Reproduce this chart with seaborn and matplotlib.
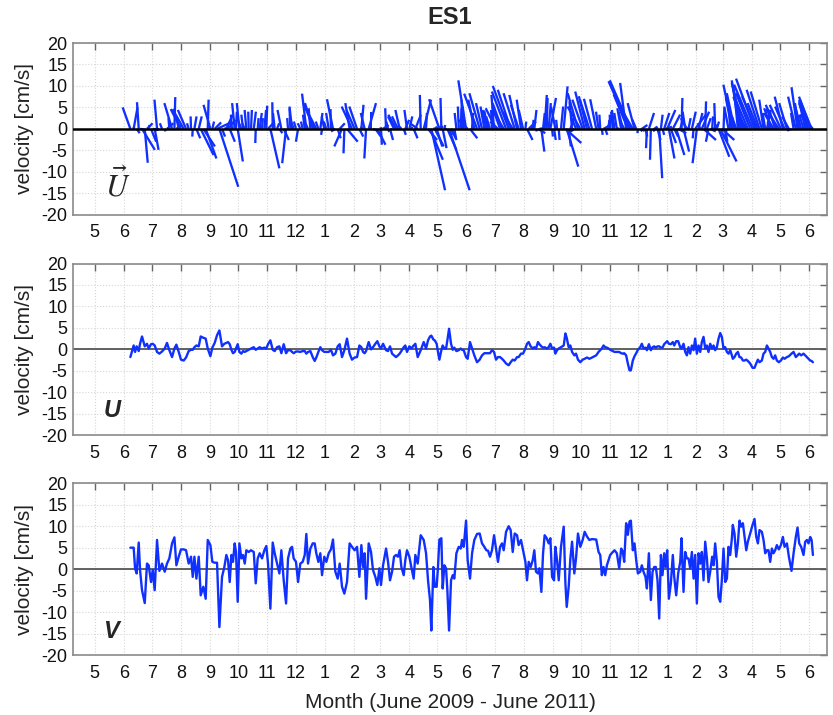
import numpy as np
import pandas as pd
import matplotlib
matplotlib.use("Agg")
import matplotlib.pyplot as plt
import seaborn as sns

# days since 2009-06-01
day = [
    7.1, 10.6, 12.1, 13.8, 16.0, 17.4, 19.5, 22.4, 24.8, 26.6, 29.1, 30.9, 33.0, 35.5, 38.0, 40.8, 43.7, 46.1,
    48.6, 51.5, 54.0, 56.1, 58.6, 61.0, 63.9, 66.4, 69.2, 71.7, 73.5, 75.3, 77.4, 79.9, 82.0, 84.8, 87.3, 89.5,
    92.3, 94.4, 96.9, 99.4, 101.9, 104.7, 107.2, 109.3, 111.1, 112.9, 114.7, 116.4, 118.2, 119.6, 121.4, 123.2,
    125.3, 127.1, 128.9, 130.6, 133.1, 135.6, 138.5, 140.6, 142.7, 144.8, 147.3, 149.8, 151.9, 153.7, 156.2,
    158.7, 160.8, 163.3, 165.8, 167.9, 170.4, 172.9, 175.0, 177.5, 179.3, 181.0, 183.5, 185.7, 188.1, 190.6,
    192.8, 194.5, 196.3, 198.8, 201.3, 203.4, 205.1, 207.3, 209.4, 211.2, 213.6, 215.8, 218.3, 220.7, 222.9,
    225.4, 227.9, 230.0, 232.5, 235.0, 237.8, 240.6, 243.1, 245.9,
    248.5, 251.0, 253.1, 254.9, 256.6, 258.1, 260.9, 263.4, 265.5, 268.0, 270.1, 272.3, 274.0, 276.2, 279.4,
    281.5, 283.6, 285.8, 287.9, 290.0, 292.1, 293.9, 295.7, 298.2, 299.9, 301.7, 304.2, 306.3, 308.8, 310.6,
    313.1, 316.3, 319.5, 322.0, 324.1, 326.2, 327.6, 329.8, 331.2, 333.3, 334.7, 336.2, 338.3, 339.7, 341.5,
    343.3, 344.7, 346.5, 348.6, 350.4, 352.1, 354.3, 356.8, 358.9, 360.3, 362.1, 364.6, 366.3, 368.8, 371.0,
    373.4, 376.3, 379.1, 381.6, 384.1, 386.2, 388.0, 390.1, 392.2, 394.4, 396.5, 398.6, 400.8, 402.9, 404.7,
    407.2, 410.0, 412.1, 414.3, 416.4, 418.9, 420.6, 423.1, 425.3, 427.8, 429.5, 431.3, 433.4, 435.6, 437.3,
    439.1, 441.2, 442.7, 444.8, 446.6, 448.3, 450.5, 452.6, 454.4, 456.2, 458.3, 459.7, 461.5, 463.3, 465.7,
    468.6, 470.4, 471.8, 473.9, 475.7, 477.5, 479.9, 481.7, 483.8, 486.3, 488.8, 490.9, 493.4, 495.9, 498.8,
    503.2, 505.7, 507.5, 509.2, 511.0, 512.8, 514.6, 516.3, 518.1, 520.9, 522.7, 525.2, 527.7, 529.8, 531.6,
    533.0, 535.1, 536.9, 538.7, 540.1, 542.2, 544.0, 545.8, 547.6, 550.1, 551.8, 553.6, 555.7, 557.2, 559.3,
    561.4, 563.2, 565.0, 566.7, 568.5, 570.3, 572.1, 573.8, 575.6, 577.0, 578.8, 580.6, 582.7, 584.8, 586.3,
    588.4, 590.5, 592.7, 594.1, 596.2, 598.0, 599.8, 601.5, 603.3, 605.1, 606.9, 608.6, 610.4, 612.2, 614.0,
    615.7, 617.5, 619.3, 621.1, 622.8, 624.6, 626.7, 628.2, 629.9, 631.7, 633.5, 635.3, 637.0, 638.8, 640.6,
    642.4, 644.1, 645.9, 647.7, 648.7, 650.5, 652.3, 654.1, 655.8, 657.6, 659.4, 661.2, 663.0, 664.7, 667.2,
    669.7, 671.8, 673.6, 675.4, 677.1, 679.6, 681.4, 683.2, 685.0, 686.7, 688.5, 690.3, 692.1, 693.8, 695.6,
    697.7, 699.9, 702.0, 703.8, 706.3, 708.4, 711.2, 713.4, 715.8, 717.6, 719.4, 721.5, 724.0, 725.8, 727.6,
    729.3, 731.1, 732.6, 734.0,
]

# east component U [cm/s]
u_vel = [
    -1.8, 0.9, -0.6, 0.7, -0.4, 1.3, 3.0, 0.7, 1.3, 0.2, 1.2, 1.3, 0.9, -0.6, -1.0, -0.5, 0.2, 1.5, -0.2, -1.8,
    0.2, 1.1, -0.6, -2.4, -2.6, -1.9, -0.4, -0.1, -0.1, 0.5, 0.9, 0.7, 3.0, 2.7, 2.5, 0.2, -1.6, 0.4, 1.5, 3.3,
    4.4, 0.7, 1.3, 1.5, 1.7, 1.2, -0.1, -0.9, -0.6, 0.2, 1.2, -0.6, -1.0, -0.4, -0.6, -0.4, -0.1, 0.2, 0.5, -0.1,
    0.2, 0.5, 0.2, 0.4, 0.2, 1.2, 2.1, -0.1, -0.4, 0.5, 0.7, -0.9, 1.2, -0.9, -0.2, -0.2, -0.6, -0.9, -0.5, -0.5,
    -0.6, -0.4, -0.4, -1.0, -0.6, -0.4, -1.8, -2.7, -1.9, -0.6, 0.5, -0.2, -0.6, -0.6, -0.6, -0.1, -1.4, -1.0,
    0.7, 1.2, -1.8, -0.2, 2.5, -1.0, -2.4, -1.9,
    -1.8, 0.9, 0.5, -0.6, -0.9, -0.4, 1.7, 0.0, 0.5, 1.3, 1.9, 0.7, 0.2, 1.3, -0.2, -0.4, 0.7, -1.0, -1.4, -1.8,
    -1.4, -1.0, -0.4, 0.5, 0.9, -0.6, 0.7, 0.2, 0.9, 1.3, -1.8, -0.2, 1.7, 0.2, 2.1, 3.0, 3.2, 2.3, 2.1, 1.3,
    -0.6, -2.4, -0.2, 0.9, 0.2, 0.2, 2.1, 4.8, 1.3, -0.1, 0.4, -0.4, -0.2, 0.2, -0.1, -0.2, -1.8, -2.2, 1.7, 0.2,
    -1.4, -3.0, -2.4, -1.4, -0.9, -0.9, -0.9, -0.9, -0.2, -0.6, -2.4, -1.8, -1.8, -2.2, -2.6, -3.3, -3.7, -3.0,
    -2.4, -2.6, -1.8, -1.8, -1.0, -1.0, 0.2, 1.3, 1.7, 0.7, 0.2, 0.5, 0.2, 1.7, 1.2, 0.7, 0.4, 0.5, 0.2, 0.5,
    1.3, 0.2, 0.4, -1.0, -0.2, 0.2, 0.5, 0.9, 3.7, 2.7, 0.5, 0.9, -0.6, -1.4, -1.0, -2.4, -3.0, -2.4, -2.2,
    -1.9, -2.2, -1.9,
    -1.4, -0.6, -0.2, 0.2, 0.9, 0.5, 0.4, 0.2, -0.1, -0.4, -0.6, -0.6, -0.6, -0.9, -1.0, -0.9, -1.4, -3.3, -4.9,
    -4.9, -2.6, -1.6, -0.9, -0.1, 0.5, 1.3, 0.2, 0.4, -0.2, 1.2, -0.2, 0.5, 0.7, 0.4, 0.7, 0.7, 0.4, 0.4, 1.2,
    1.5, 1.9, 1.3, 1.2, 1.7, 0.9, 1.9, 1.9, 0.5, 0.2, 1.3, -0.6, -1.4, 0.5, -1.0, 0.9, -0.2, 2.5, -1.0, 0.9,
    -0.6, 1.7, 2.9, 0.2, 0.9, -0.6, 1.3, 0.2, 0.9, -0.2, 0.5, 2.5, 3.8, 2.9, 0.2, 0.5, -0.6, -1.0, -0.2, -1.4,
    -2.2, -1.8, -1.0, -0.6, -1.8, -1.9, -2.6, -2.6, -2.4, -2.7, -3.3, -4.3, -4.3, -3.3, -2.4, -3.0, -2.6, -1.0,
    -0.6, 0.9, 0.2, -0.6, -1.8, -2.2, -1.4, -2.6, -3.0, -2.6, -1.9, -2.2, -1.8, -1.6, -1.0, -0.6, -1.8, -1.4,
    -1.0, -1.4, -1.0, -1.4, -1.8, -2.2, -2.6, -2.7, -3.0,
]

# north component V [cm/s]
v_vel = [
    5.0, 5.0, 0.2, -1.0, 6.2, -0.2, -4.9, -7.9, 1.3, 0.9, -3.0, -0.2, -4.9, 6.8, -0.4, 1.3, -0.6, 1.3, 2.5, 6.0,
    7.4, 0.9, 2.9, 4.6, 4.6, 4.4, 1.3, 2.9, -1.8, 2.9, -2.2, 2.9, -6.1, -4.1, -6.9, 6.8, 5.6, 1.7, 1.5, 1.5,
    -13.5, -1.8, 0.5, 3.3, 2.1, -3.0, 3.3, 1.7, 6.0, 4.0, -7.6, 6.0, 2.5, 3.3, 1.3, 4.4, 4.0, 4.4, 4.0, -3.3,
    2.5, 3.7, 2.5, 4.4, 5.4, 1.3, -9.2, 6.2, 3.7, 1.3, -1.0, 4.4, -2.6, -8.0, 2.5, 4.8, 5.2, 2.5, 1.7, -3.0,
    1.3, 1.7, 3.3, 8.2, 1.3, 4.8, 6.0, 6.0, 3.7, 1.7, 3.7, -1.4, 2.9, 1.7, 3.7, 4.6, 6.9, -0.6, -2.2, 1.3,
    -4.1, -5.7, -3.0, 6.0, 5.2, 4.4,
    5.2, -1.8, 5.6, 0.5, 3.7, -6.9, 6.0, 4.0, -0.2, -1.8, -3.7, 0.2, -3.7, 0.9, 4.8, 1.7, -2.6, -0.6, 2.9, 3.3,
    2.9, 4.4, 0.5, -1.4, 2.1, 4.4, 2.9, 0.5, -2.2, 3.3, 1.3, 7.9, 6.8, 3.7, -2.6, -7.2, -14.3, 0.5, -4.1, -4.1,
    0.5, 6.9, 7.2, -4.5, 0.9, 0.2, -4.9, -14.3, -2.6, -1.4, -2.2, 3.7, 5.2, 4.8, 6.8, 5.2, 11.3, 2.1, -2.2, 3.7,
    6.8, 8.2, 8.3, 6.0, 5.2, 4.4, 4.3, 2.9, 4.4, 7.9, 4.8, 1.7, 5.2, 6.0, 4.4, 8.7, 10.0, 9.1, 4.0, 8.3,
    7.9, 5.6, 6.8, 4.4, 1.7, -2.6, 1.7, 0.5, 2.1, 4.4, -0.6, -1.0, 0.2, -5.3, 3.7, 7.9, 7.2, 6.0, 7.2, -1.8,
    -2.6, 5.2, 2.1, -2.6, 5.2, 9.9, -3.3, -8.8, -4.1, 2.5, 6.4, -1.0, 2.5, 8.3, 5.2, 6.8, 8.7, 7.6, 6.8, 7.0,
    6.9, 4.0, 3.3, -1.4, 0.5, -1.4, 0.9, 2.1, 3.3, 4.0, 4.4, 3.7, 0.2, 4.8, 4.0, 1.7, 10.7, 8.0, 11.1, 11.3,
    4.4, 6.0, 2.1, -1.0, -0.6, 0.9, -0.6, -1.8, -4.5, 3.7, -7.2, -0.6, 0.5, 0.5, -2.6, -11.5, 3.3, -1.4, 3.7, 0.5,
    4.4, -6.9, -3.3, 3.3, -1.8, -6.1, -1.0, 1.7, 7.2, -5.3, 4.0, 2.5, 2.5, 0.2, 4.0, -2.2, 3.3, -8.0, 3.7, 1.3,
    4.0, -2.6, 6.4, 2.5, -3.0, -0.6, 2.9, 0.9, 6.0, 1.7, -6.5, -7.6, -2.6, 4.8, -3.0, -2.2, 5.2, 3.3, 7.2, 10.3,
    8.3, 2.9, 6.0, 11.3, 9.9, 10.7, 7.5, 4.4, 6.4, 8.3, 10.3, 11.7, 7.6, 6.0, 9.1, 8.7, 6.8, 3.7, 4.4, 4.4,
    1.7, 4.8, 3.7, 4.4, 5.6, 4.6, 5.6, 7.5, 5.2, 6.0, 2.9, -0.4, 3.7, 7.5, 9.7, 6.0, 5.2, 3.3, 6.4, 6.8,
    6.0, 7.5, 6.8, 3.3,
]

month_starts = pd.date_range("2009-05-01", "2011-06-01", freq="MS")
base_date = pd.Timestamp("2009-06-01")
tick_days = [(m - base_date).days for m in month_starts]
tick_labels = [str(m.month) for m in month_starts]

sns.set_theme(style="white")
plt.rcParams["font.family"] = ["Liberation Sans", "DejaVu Sans"]
plt.rcParams["axes.unicode_minus"] = False
plt.rcParams["mathtext.fontset"] = "stix"

df = pd.DataFrame({"day": day, "U": u_vel, "V": v_vel})
blue = "#1030ff"

W, H = 833, 715
fig = plt.figure(figsize=(W / 100, H / 100), dpi=100)
left_px, right_px = 73, 827
tops = [43, 263.5, 483.3]
hpx = 171.7
axes = [fig.add_axes([left_px / W, 1 - (t + hpx) / H, (right_px - left_px) / W, hpx / H]) for t in tops]

# stick plot (true-aspect vectors from the baseline)
ax0 = axes[0]
ax0.quiver(df["day"], np.zeros(len(df)), df["U"], df["V"], angles="uv", scale_units="y", scale=1,
           pivot="tail", color=blue, units="dots", width=2.3, headwidth=0, headlength=0,
           headaxislength=0, zorder=2)
ax0.axhline(0, color="black", lw=1.8, zorder=3)

sns.lineplot(data=df, x="day", y="U", ax=axes[1], color=blue, linewidth=1.7, estimator=None, sort=False, zorder=3)
axes[1].axhline(0, color="#555555", lw=1.3, zorder=2)
sns.lineplot(data=df, x="day", y="V", ax=axes[2], color=blue, linewidth=1.7, estimator=None, sort=False, zorder=3)
axes[2].axhline(0, color="#555555", lw=1.3, zorder=2)

for ax in axes:
    ax.set_xlim(-54, 749)
    ax.set_ylim(-20, 20)
    ax.set_xticks(tick_days)
    ax.set_xticklabels(tick_labels)
    ax.set_yticks(range(-20, 21, 5))
    ax.grid(True, color="#d6d6d6", linestyle=":", linewidth=0.8, zorder=0)
    ax.set_axisbelow(True)
    ax.tick_params(axis="both", direction="in", length=5, width=1, color="#666666",
                   labelcolor="#111111", labelsize=13, top=True, right=True)
    ax.tick_params(axis="x", pad=7)
    ax.tick_params(axis="y", pad=4)
    for sp in ax.spines.values():
        sp.set_color("#8a8a8a")
        sp.set_linewidth(1.2)
    ax.set_ylabel("velocity [cm/s]", fontsize=15, color="#222222")
    ax.yaxis.set_label_coords(-0.052, 0.5)
    ax.set_xlabel("")

axes[2].set_xlabel("Month (June 2009 - June 2011)", fontsize=15, color="#222222", labelpad=8)

ax0.text(0.042, 0.17, r"$\vec{U}$", transform=ax0.transAxes, fontsize=22, va="center", ha="left")
axes[1].text(0.04, 0.146, "U", transform=axes[1].transAxes, fontsize=17, fontweight="bold",
             fontstyle="italic", va="center", ha="left")
axes[2].text(0.04, 0.138, "V", transform=axes[2].transAxes, fontsize=17, fontweight="bold",
             fontstyle="italic", va="center", ha="left")

fig.text(450 / W, 1 - 18 / H, "ES1", ha="center", va="center", fontsize=17, fontweight="bold")

fig.savefig("out.png", dpi=100)
